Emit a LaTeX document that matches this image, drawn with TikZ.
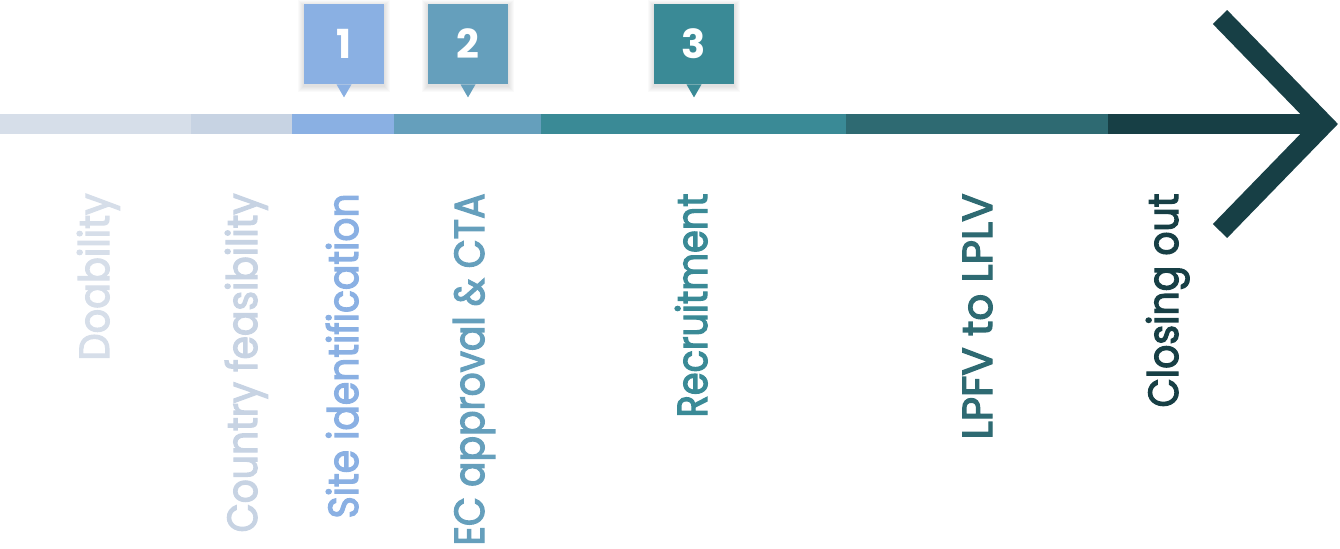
\documentclass[tikz,border=0pt]{standalone}
\usepackage{fontspec}
\setmainfont{Poppins}
\newfontfamily\phasefont{Poppins}[FakeBold=3]
\usetikzlibrary{calc}
\definecolor{phaseA}{HTML}{D6DEE9}
\definecolor{phaseB}{HTML}{C7D3E3}
\definecolor{phaseC}{HTML}{8AB0E3}
\definecolor{phaseD}{HTML}{659FBC}
\definecolor{phaseE}{HTML}{3A8A96}
\definecolor{phaseF}{HTML}{2E6A72}
\definecolor{phaseG}{HTML}{173F45}
% squeeze a label to a given length (in px of the picture)
\newcommand{\fitlabel}[2]{\resizebox{#1\dimexpr0.5pt\relax}{\height}{#2}}
\tikzset{
	phase/.style={rotate=90,anchor=base east,inner sep=0pt,font=\phasefont\fontsize{21}{24}\selectfont},
	numbox/.style={minimum size=40pt,inner sep=0pt,text=white,font=\bfseries\fontsize{20}{24}\selectfont}
}
\begin{document}
\begin{tikzpicture}[x=0.5pt,y=-0.5pt]
		\useasboundingbox (0,0) rectangle (1340,548);
		% timeline bar
		\foreach \xa/\xb/\c in {0/191/phaseA,191/292/phaseB,292/394/phaseC,394/541/phaseD,541/846/phaseE,846/1108/phaseF,1108/1324/phaseG}
			\fill[\c] (\xa,114) rectangle (\xb,134);
		\draw[phaseG,line width=10pt,line join=miter] (1220,17) -- (1324,124) -- (1220,231);
		% phase labels
		\node[phase,text=phaseA] (doab) at (109,193) {\fitlabel{167}{Doability}};
		\node[phase,text=phaseB] (cntry) at (257,193) {\fitlabel{339}{Country feasibility}};
		\node[phase,text=phaseC] (site) at (358,193) {\fitlabel{325}{Site identification}};
		\node[phase,text=phaseD] (ecta) at (484,193) {\fitlabel{352}{EC approval \& CTA}};
		\node[phase,text=phaseE] (recr) at (707,193) {\fitlabel{224}{Recruitment}};
		\node[phase,text=phaseF] (lpfv) at (992,193) {\fitlabel{246}{LPFV to LPLV}};
		\node[phase,text=phaseG] (close) at (1178,193) {\fitlabel{214}{Closing out}};
		% numbered markers
		\foreach \n/\xc/\c in {1/344/phaseC,2/468/phaseD,3/694/phaseE}{
			\foreach \s in {1,...,6}
				\fill[black,opacity=0.018] (\xc-40-\s,4-\s+2) rectangle (\xc+40+\s,84+\s+2);
			\node[numbox,fill=\c] (m\n) at (\xc,44) {\n};
			\fill[\c] ($(m\n.south)+(-7.5,0)$) -- ($(m\n.south)+(7.5,0)$) -- ($(m\n.south)+(0,13)$) -- cycle;
		}
		\end{tikzpicture}
\end{document}
